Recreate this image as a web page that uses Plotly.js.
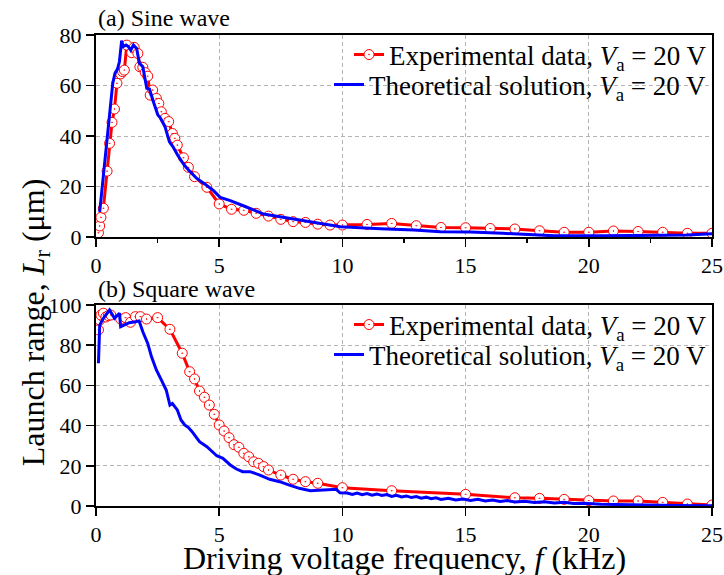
<!DOCTYPE html>
<html>
<head>
<meta charset="utf-8">
<script src="https://cdn.plot.ly/plotly-3.0.1.min.js"></script>
<style>html,body{margin:0;padding:0;background:#fff;}#chart{width:724px;height:575px;}</style>
</head>
<body>
<div id="chart"></div>
<script>
// (a) Sine wave – experimental
const sineExpF = [0.1,0.15,0.2,0.3,0.45,0.55,0.65,0.75,0.85,1.0,1.08,1.15,1.25,1.45,1.55,1.7,1.78,1.9,2.0,2.1,2.2,2.3,2.45,2.55,2.65,2.8,2.95,3.1,3.2,3.3,3.55,3.75,4.0,4.5,5.0,5.5,6.0,6.5,7.0,7.5,8.0,8.5,9.0,9.5,10,11,12,13,14,15,16,17,18,19,20,21,22,23,24,25];
const sineExpL = [1.7,4.4,7.8,11.4,26.1,37.1,45.4,50.7,60.9,64.6,65.5,66.1,76,73,75.1,72.7,67.4,67.2,65.1,63.7,56.2,58.2,54.9,52.9,49.6,47,45.7,41,39.1,36.4,31.4,27.6,23.9,19.7,13.1,11,10.6,9.4,8.3,7,6.1,5.8,5.1,4.75,4.75,5,5.4,4.5,3.8,3.7,3.4,3.2,2.5,1.9,1.9,2.4,2.2,1.9,1.5,1.5];
// (a) Sine wave – theoretical
const sineThF = [0.15,0.37,0.57,0.68,0.77,0.87,0.95,1.04,1.1,1.22,1.31,1.41,1.52,1.65,1.76,1.9,2.06,2.17,2.33,2.51,2.6,2.8,2.98,3.12,3.31,3.58,3.82,4.09,4.43,4.77,5.04,5.45,6.0,6.8,7.28,8.16,9.1,9.92,11.54,12.9,13.98,15.2,16.5,18.6,20.6,22.5,24,25];
const sineThL = [10,31.8,51.6,60.9,64.8,66.5,69.4,77.8,75.4,76,75.4,74,76,74.7,68.8,67.4,58.9,58.6,53.6,48.3,47.4,43.7,37.7,35.8,32.5,28.5,25.9,23.2,20.9,18.4,15.7,14.4,12.3,9.1,8.3,7,5.4,4.1,3.3,2.8,2.1,2.0,1.5,0.5,0.5,0.6,0.8,1.3];
// (b) Square wave – experimental
const sqExpF = [0.1,0.15,0.2,0.3,0.4,0.5,0.6,1.0,1.2,1.4,1.6,1.8,2.05,2.5,3.0,3.5,3.8,4.0,4.2,4.4,4.6,4.8,5.0,5.2,5.4,5.6,5.8,6.0,6.2,6.4,6.6,6.8,7.0,7.5,8,8.5,9,10,12,15,17,18,19,20,21,22,23,24,25];
const sqExpL = [87.6,92.5,95,95.9,94,94.7,95,93,93.7,91.4,94.2,94.2,93,93.7,87.9,76,66.8,63.2,57.2,54.1,50.2,45.6,40.3,37.3,34,30.5,29.2,26.2,24.5,22,21.2,19.6,17.9,15.4,13.3,12.1,11.3,9.1,7.6,5.8,4.1,3.8,3.3,2.7,2.5,2.5,1.8,1.0,0.5];
// (b) Square wave – theoretical
const sqThF = [0.1,0.15,0.3,0.55,0.75,0.95,1.0,1.15,1.35,1.6,1.75,1.9,2.1,2.25,2.45,2.65,2.85,3.0,3.1,3.3,3.45,3.6,3.75,3.9,4.0,4.2,4.5,4.7,4.9,5.15,5.45,5.7,5.95,6.25,6.65,7.05,7.45,7.85,8.25,8.7,9.5,9.75,9.9,10.2,10.4,10.6,10.8,11.0,11.2,11.4,11.6,11.8,12.0,12.2,12.4,12.6,12.8,13.0,13.2,13.4,13.6,13.8,14.0,14.3,14.6,14.9,15.2,15.5,15.8,16.1,16.4,16.7,17.0,17.4,17.8,18.2,18.6,19.0,19.4,19.8,20.5,21.5,22.5,23.5,25];
const sqThL = [71,90,93.4,97.5,93.4,95.9,89.2,90,91.2,91.7,92,86.7,80.9,74.3,67.7,62.7,57.7,50.2,51,47.8,42.8,40.3,39,37,35.3,32,29.5,27,25,23.7,20.4,18.4,17.1,17.1,15.4,13.3,12.1,10.4,8.8,7.6,8,8.3,6.6,6.5,5.8,6.4,5.6,6.2,5.4,6.0,5.2,5.7,4.8,5.3,4.5,5.0,4.2,4.7,3.9,4.4,3.6,4.1,3.3,3.8,3.0,3.5,2.8,3.3,2.5,3.0,2.3,2.7,2.0,2.4,1.8,2.1,1.5,1.8,1.2,1.4,0.9,0.6,0.3,0.2,0.1];

const expName = 'Experimental data, <i>V</i><sub>a</sub> = 20 V';
const thName = 'Theoretical solution, <i>V</i><sub>a</sub> = 20 V';
const FONT = 'Liberation Serif, Times New Roman, serif';

const expMarker = {symbol:'circle-dot', size:10, color:'white', line:{color:'red', width:1}};

const traces = [
  {x:sineExpF, y:sineExpL, xaxis:'x', yaxis:'y', mode:'lines+markers', name:expName,
   line:{color:'red', width:3}, marker:expMarker, legend:'legend2', legendgroup:'g1'},
  {x:sineThF, y:sineThL, xaxis:'x', yaxis:'y', mode:'lines', name:thName,
   line:{color:'#0000ff', width:3}, legend:'legend3', legendgroup:'g2'},
  {x:sqExpF, y:sqExpL, xaxis:'x2', yaxis:'y2', mode:'lines+markers', name:expName,
   line:{color:'red', width:3}, marker:expMarker, legend:'legend4', legendgroup:'g3'},
  {x:sqThF, y:sqThL, xaxis:'x2', yaxis:'y2', mode:'lines', name:thName,
   line:{color:'#0000ff', width:3}, legend:'legend5', legendgroup:'g4'}
];

const axBase = {
  showline:true, linecolor:'black', linewidth:2, mirror:true,
  ticks:'outside', ticklen:8, tickwidth:1.5, tickcolor:'black',
  showgrid:true, gridcolor:'#b4b4b4', gridwidth:1, griddash:'4px,3px',
  zeroline:false, tickfont:{family:FONT, size:22, color:'black'}
};

function leg(y) {
  return {x:1, xanchor:'right', y:y, yanchor:'middle', bgcolor:'rgba(0,0,0,0)',
    font:{family:FONT, size:27, color:'black'}, tracegroupgap:0, visible:true};
}

const layout = {
  width:724, height:575,
  margin:{l:96, r:12, t:35, b:69},
  paper_bgcolor:'white', plot_bgcolor:'white',
  font:{family:FONT, color:'black'},
  showlegend:true,
  xaxis:Object.assign({}, axBase, {domain:[0,1], anchor:'y', range:[0,25], dtick:5,
    minor:{ticks:'outside', dtick:2.5, ticklen:4, tickcolor:'black', showgrid:false}}),
  yaxis:Object.assign({}, axBase, {domain:[0.571,1], anchor:'x', range:[0,80], dtick:20}),
  xaxis2:Object.assign({}, axBase, {domain:[0,1], anchor:'y2', range:[0,25], dtick:5}),
  yaxis2:Object.assign({}, axBase, {domain:[0,0.4268], anchor:'x2', range:[0,100], dtick:20}),
  legend2:leg(0.9575),
  legend3:leg(0.8938),
  legend4:leg(0.3843),
  legend5:leg(0.3206),
  annotations:[
    {text:'(a) Sine wave', xref:'paper', yref:'paper', x:0.0, y:1.036, xanchor:'left', yanchor:'middle',
     showarrow:false, font:{family:FONT, size:24, color:'black'}},
    {text:'(b) Square wave', xref:'paper', yref:'paper', x:0.0, y:0.4607, xanchor:'left', yanchor:'middle',
     showarrow:false, font:{family:FONT, size:24, color:'black'}},
    {text:'Launch range, <i>L</i><sub>r</sub> (μm)', xref:'paper', yref:'paper', x:-0.099, y:0.39,
     xanchor:'center', yanchor:'middle', textangle:-90, showarrow:false, font:{family:FONT, size:32, color:'black'}},
    {text:'Driving voltage frequency, <i>f</i> (kHz)', xref:'paper', yref:'paper', x:0.5, y:-0.11,
     xanchor:'center', yanchor:'middle', showarrow:false, font:{family:FONT, size:32, color:'black'}}
  ]
};

Plotly.newPlot('chart', traces, layout, {displayModeBar:false, staticPlot:true});
</script>
</body>
</html>
